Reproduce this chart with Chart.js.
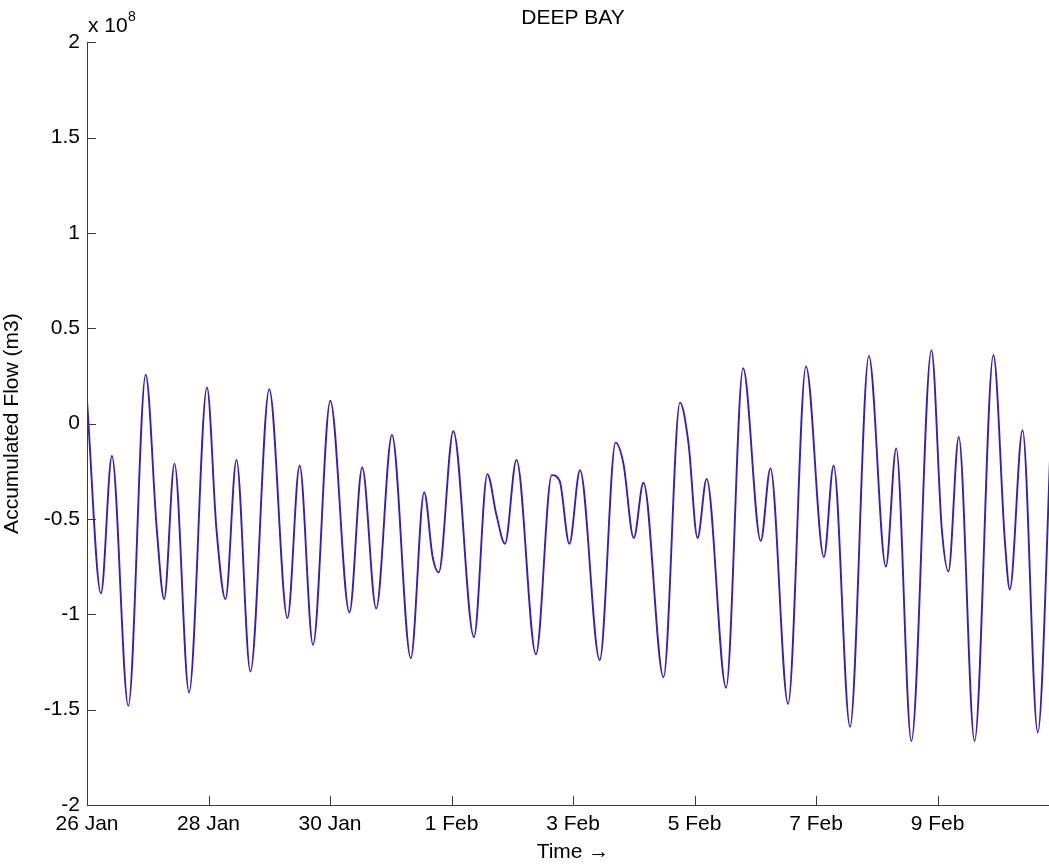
<!DOCTYPE html>
<html>
<head>
<meta charset="utf-8">
<title>DEEP BAY</title>
<script src="https://cdn.jsdelivr.net/npm/chart.js@4/dist/chart.umd.min.js"></script>
<style>
  html, body { margin: 0; padding: 0; background: #fff; overflow: hidden; }
  #wrap { width: 1062px; height: 867px; position: relative; }
</style>
</head>
<body>
<div id="wrap"><canvas id="chart"></canvas></div>
<script>
'use strict';

// time in days since 26 Jan (turning points and shoulders)
const days = [
  0.00, 0.23, 0.41, 0.68, 0.966, 1.15, 1.27, 1.44, 1.68, 1.975,
  2.13, 2.28, 2.46, 2.69, 3.00, 3.30, 3.50, 3.72, 4.005, 4.32,
  4.53, 4.76, 5.02, 5.33, 5.55, 5.69, 5.79, 6.03, 6.37, 6.59,
  6.74, 6.88, 7.07, 7.39, 7.65, 7.78, 7.94, 8.115, 8.44, 8.70,
  8.83, 9.00, 9.16, 9.49, 9.76, 9.90, 10.05, 10.20, 10.52, 10.80,
  11.09, 11.25, 11.54, 11.835, 12.13, 12.29, 12.56, 12.87, 13.15, 13.32,
  13.57, 13.90, 14.07, 14.18, 14.35, 14.61, 14.92, 15.11, 15.19, 15.40,
  15.65, 15.95, 16.00
];

// accumulated flow, x 10^8 m3
const flow = [
  0.12, -0.89, -0.17, -1.48, 0.256, -0.56, -0.92, -0.21, -1.41, 0.19,
  -0.55, -0.92, -0.19, -1.30, 0.18, -1.02, -0.22, -1.16, 0.12, -0.99,
  -0.23, -0.97, -0.06, -1.23, -0.36, -0.70, -0.78, -0.04, -1.12, -0.265,
  -0.48, -0.63, -0.19, -1.21, -0.27, -0.30, -0.63, -0.245, -1.24, -0.10,
  -0.21, -0.60, -0.31, -1.33, 0.11, -0.10, -0.60, -0.29, -1.385, 0.29,
  -0.615, -0.235, -1.47, 0.30, -0.70, -0.22, -1.59, 0.355, -0.75, -0.13,
  -1.665, 0.385, -0.55, -0.775, -0.07, -1.665, 0.36, -0.62, -0.87, -0.035,
  -1.62, 0.30, 0.27
];

const xTicks = [0, 2, 4, 6, 8, 10, 12, 14];
const xTickLabels = ['26 Jan', '28 Jan', '30 Jan', '1 Feb', '3 Feb', '5 Feb', '7 Feb', '9 Feb'];
const yTicks = [-2, -1.5, -1, -0.5, 0, 0.5, 1, 1.5, 2];

const FONT = '"Liberation Sans", Arial, Helvetica, sans-serif';
const AXIS_COLOR = '#3a3a3a';

// matlab style: ticks point inward, plus the "x 10^8" exponent
const matlabAxes = {
  id: 'matlabAxes',
  afterDraw(chart) {
    const ctx = chart.ctx;
    const area = chart.chartArea;
    const xs = chart.scales.x;
    const ys = chart.scales.y;
    ctx.save();
    ctx.strokeStyle = AXIS_COLOR;
    ctx.lineWidth = 1;
    ctx.beginPath();
    xTicks.forEach(t => {
      const px = Math.round(xs.getPixelForValue(t)) + 0.5;
      ctx.moveTo(px, area.bottom);
      ctx.lineTo(px, area.bottom - 9);
    });
    yTicks.forEach(t => {
      const py = Math.round(ys.getPixelForValue(t)) + 0.5;
      ctx.moveTo(area.left, py);
      ctx.lineTo(area.left + 9, py);
    });
    ctx.stroke();

    ctx.fillStyle = '#000';
    ctx.textBaseline = 'alphabetic';
    ctx.textAlign = 'left';
    ctx.font = '21px ' + FONT;
    ctx.fillText('x 10', area.left + 1, 32);
    ctx.font = '14px ' + FONT;
    ctx.fillText('8', area.left + 41, 21);
    ctx.restore();
  }
};

const ctx = document.getElementById('chart');
const chart = new Chart(ctx, {
  type: 'line',
  data: {
    datasets: [{
      label: 'Accumulated Flow',
      data: days.map((d, i) => ({x: d, y: flow[i]})),
      borderColor: '#3a1cbc',
      borderWidth: 1.9,
      pointRadius: 0,
      cubicInterpolationMode: 'monotone',
      fill: false
    }]
  },
  options: {
    responsive: true,
    maintainAspectRatio: false,
    animation: false,
    layout: { padding: { left: 0, right: 3, top: 0, bottom: 0 } },
    plugins: {
      legend: { display: false },
      tooltip: { enabled: false },
      title: {
        display: true,
        text: 'DEEP BAY',
        fullSize: false,
        color: '#000',
        font: { family: FONT, size: 21, weight: 'normal' },
        padding: { top: 6, bottom: 11 }
      }
    },
    scales: {
      x: {
        type: 'linear',
        min: 0,
        max: 16,
        afterBuildTicks: scale => { scale.ticks = xTicks.map(v => ({value: v})); },
        afterFit: scale => { scale.height = 62; },
        grid: { display: false, drawTicks: false },
        border: { display: true, color: AXIS_COLOR, width: 1 },
        ticks: {
          color: '#000',
          padding: 7,
          maxRotation: 0,
          font: { family: FONT, size: 21 },
          callback: v => xTickLabels[xTicks.indexOf(v)]
        },
        title: {
          display: true,
          text: 'Time \u2192',
          color: '#000',
          font: { family: FONT, size: 21 },
          padding: { top: 0, bottom: 2 }
        }
      },
      y: {
        min: -2,
        max: 2,
        afterBuildTicks: scale => { scale.ticks = yTicks.map(v => ({value: v})); },
        afterFit: scale => { scale.width = 87; },
        grid: { display: false, drawTicks: false },
        border: { display: true, color: AXIS_COLOR, width: 1 },
        ticks: {
          color: '#000',
          padding: 7,
          font: { family: FONT, size: 21 },
          callback: v => String(v)
        },
        title: {
          display: true,
          text: 'Accumulated Flow (m3)',
          color: '#000',
          font: { family: FONT, size: 21 },
          padding: { top: 0, bottom: 0 }
        }
      }
    }
  },
  plugins: [matlabAxes]
});
</script>
</body>
</html>
